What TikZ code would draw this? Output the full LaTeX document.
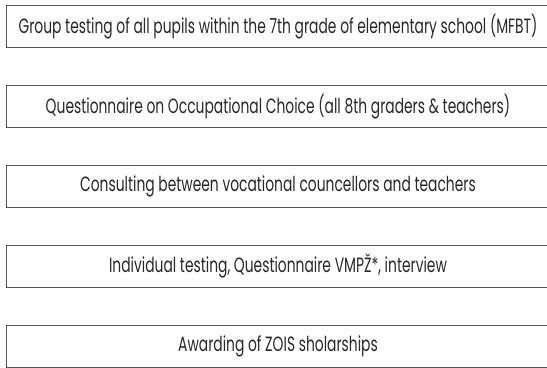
\documentclass[tikz,border=0pt]{standalone}
\usepackage{fontspec}
\setmainfont{Poppins}[FakeStretch=0.67]
\usepackage[rgb]{xcolor}
\usepackage{tikz}

\definecolor{boxline}{RGB}{85,85,85}
\definecolor{boxtext}{RGB}{40,40,40}

\begin{document}
\begin{tikzpicture}[x=0.75pt, y=-0.75pt,
  stage/.style={rectangle, draw=boxline, line width=0.9pt, text=boxtext,
    minimum width=407.5pt, minimum height=32pt, inner sep=0pt,
    font=\fontsize{15.5}{17}\selectfont}]

\useasboundingbox (0,0) rectangle (547,368);

% stages of the selection, top to bottom

\path
(278,26.5)  node[stage] (grouptest) {Group testing of all pupils within the 7th grade of elementary school (MFBT)}
(278,106.5) node[stage] (questionnaire) {Questionnaire on Occupational Choice (all 8th graders \& teachers)}
(278,186.5) node[stage] (consulting) {Consulting between vocational councellors and teachers}
(278,266.5) node[stage] (individual) {Individual testing, Questionnaire VMPŽ*, interview}
(278,346.5) node[stage] (awarding) {Awarding of ZOIS sholarships};

\end{tikzpicture}
\end{document}
